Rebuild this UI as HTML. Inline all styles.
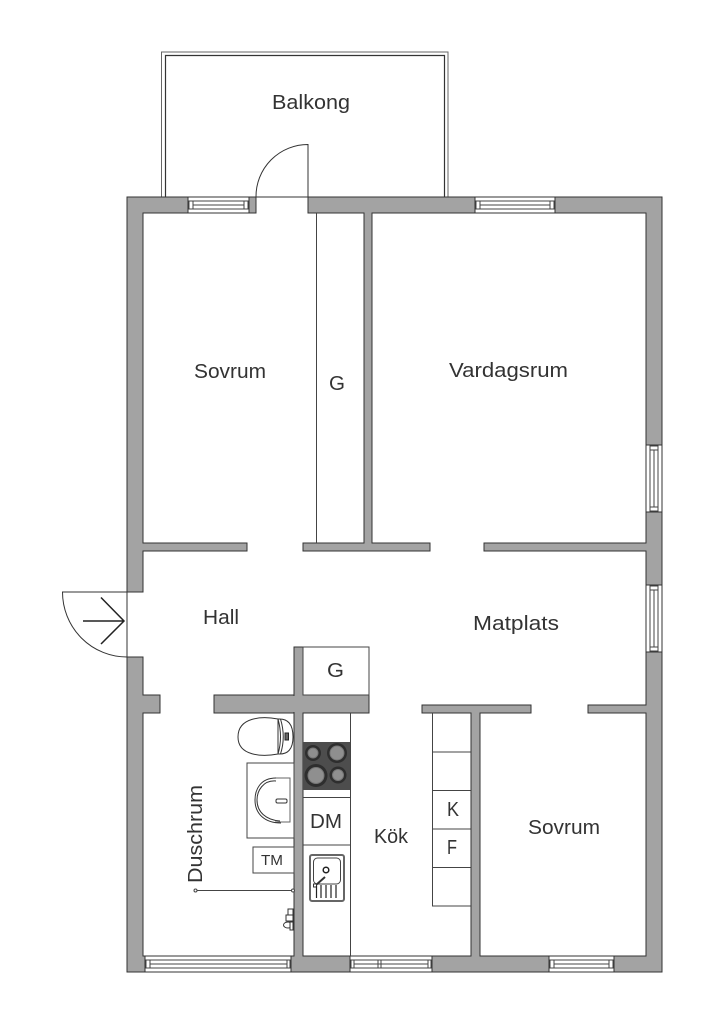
<!DOCTYPE html>
<html><head><meta charset="utf-8"><style>
html,body{margin:0;padding:0;background:#fff}
svg{display:block}
text{font-family:"Liberation Sans",sans-serif;fill:#333;font-size:20px}
</style></head><body>
<svg width="724" height="1024" viewBox="0 0 724 1024" xmlns="http://www.w3.org/2000/svg">
<rect width="724" height="1024" fill="#fff"/>
<!-- balcony -->
<path d="M161.5 197V52H448V197" fill="none" stroke="#666" stroke-width="1"/>
<path d="M165.5 197V55.5H444.5V197" fill="none" stroke="#333" stroke-width="1.2"/>
<!-- walls -->
<g fill="#a3a3a3" stroke="#333" stroke-width="1">
<path d="M127 197H188V213H143V543H247V551H143V592H127Z"/>
<rect x="249" y="197" width="7" height="16"/>
<path d="M308 197H662V972H127V657H143V695H160V713H143V956H294V647H303V695H369V713H303V956H471V713H422V705H531V713H480V956H646V713H588V705H646V551H484V543H646V213H372V543H430V551H303V543H364V213H308Z"/>
<rect x="214" y="695" width="80" height="18"/>
</g>
<!-- clean joins -->
<g fill="#a3a3a3">
<rect x="293" y="696" width="11" height="16"/>
<rect x="128" y="198" width="14" height="14"/>
</g>
<!-- windows -->
<g fill="#fff" stroke="#333" stroke-width="1">
<rect x="188" y="197" width="61" height="16"/>
<rect x="475" y="197" width="80" height="16"/>
<rect x="646" y="445" width="16" height="67"/>
<rect x="646" y="585" width="16" height="67"/>
<rect x="145" y="956" width="146" height="16"/>
<rect x="350" y="956" width="82" height="16"/>
<rect x="549" y="956" width="65" height="16"/>
</g>
<g fill="none" stroke="#444" stroke-width="1">
<rect x="189" y="201" width="59" height="8"/><path d="M193 201V209M244 201V209M193 205H244"/>
<rect x="476" y="201" width="78" height="8"/><path d="M480 201V209M550 201V209M480 205H550"/>
<rect x="650" y="446" width="8" height="65"/><path d="M650 450H658M650 507H658M654 450V507"/>
<rect x="650" y="586" width="8" height="65"/><path d="M650 590H658M650 647H658M654 590V647"/>
<rect x="146" y="960" width="144" height="8"/><path d="M150 960V968M287 960V968M150 964H287"/>
<rect x="351" y="960" width="80" height="8"/><path d="M354 960V968M378 960V968M381 960V968M428 960V968M354 964H428"/>
<rect x="550" y="960" width="63" height="8"/><path d="M554 960V968M609 960V968M554 964H609"/>
</g>
<!-- doors -->
<g fill="none" stroke="#333" stroke-width="1">
<path d="M256 197H308V144.5A52 52 0 0 0 256 197"/>
<path d="M127 592V657M127 592H62.5A64.5 65 0 0 0 127 657"/>
</g>
<path d="M83 621H124M101 597.5L124 621L101 644" fill="none" stroke="#222" stroke-width="1.5"/>
<!-- G closets -->
<g fill="none" stroke="#444" stroke-width="1">
<path d="M316.5 213V543"/>
<rect x="303" y="647" width="66" height="48"/>
<!-- counter -->
<path d="M350.5 713V956M303 797.5H350M303 845H350"/>
<!-- wardrobe -->
<path d="M432.5 713V906H471M432 752H471M432 790.5H471M432 829H471M432 867.5H471"/>
<!-- bathroom -->
<rect x="247" y="763" width="47" height="75"/>
<rect x="253" y="847" width="41" height="26"/>
</g>
<!-- stove -->
<rect x="303" y="742" width="47" height="48" fill="#4d4d4d"/>
<g fill="#2e2e2e">
<circle cx="313" cy="753" r="8"/><circle cx="337" cy="753" r="10"/>
<circle cx="316" cy="775.5" r="11.5"/><circle cx="338" cy="775" r="8.5"/>
</g>
<g fill="#8f8f8f" stroke="#777" stroke-width="1">
<circle cx="313" cy="753" r="5"/><circle cx="337" cy="753" r="7"/>
<circle cx="316" cy="775.5" r="8"/><circle cx="338" cy="775" r="5.5"/>
</g>
<!-- toilet -->
<g fill="#fff" stroke="#333" stroke-width="1">
<path d="M278 719C262 716 238 717 238 737C238 756 262 757 278 754Z"/>
<path d="M278 719Q293 718 293 737Q293 755 278 754Q283 737 278 719Z"/>
<path d="M280.5 719Q286 737 280.5 754" fill="none"/>
<rect x="285" y="733" width="3.5" height="7" stroke="#222" fill="#666"/>
<!-- basin -->
<path d="M275 778H290V822H275" fill="none" stroke="#666"/>
<path d="M276 781C263 780 257 791 257 800C257 812 266 820 280 821" fill="none" stroke="#333"/>
<path d="M276 778C260 778 255 790 255 800C255 814 265 823 281 823" fill="none" stroke="#333"/>
<rect x="276" y="799" width="11" height="4" fill="#fff" rx="1.5"/>
</g>
<!-- sink -->
<g fill="none">
<rect x="310" y="855" width="34" height="46" rx="2" fill="#fff" stroke="#666" stroke-width="2"/>
<rect x="313.5" y="858" width="27" height="26" rx="4" stroke="#444"/>
<circle cx="326" cy="870" r="2.8" stroke="#222" stroke-width="1.5"/>
<path d="M316 885L325 877" stroke="#333" stroke-width="2"/>
<rect x="313.5" y="884" width="3" height="3" stroke="#333" fill="#fff"/>
<path d="M316.5 886V898M321 885V898M326 885V898M331 885V898M336 885V898" stroke="#222" stroke-width="1.2"/>
</g>
<!-- shower -->
<path d="M195 890.5H293" stroke="#444" stroke-width="1"/>
<circle cx="195.5" cy="890.5" r="1.5" fill="#fff" stroke="#444"/>
<circle cx="293" cy="890.5" r="1.5" fill="#fff" stroke="#444"/>
<g fill="#fff" stroke="#333" stroke-width="1">
<rect x="288" y="909" width="5" height="7"/>
<rect x="286" y="915" width="7" height="6"/>
<ellipse cx="288" cy="925" rx="4.5" ry="3"/>
<rect x="290" y="922" width="3" height="8"/>
</g>
<!-- labels -->
<text x="272" y="109" textLength="78" lengthAdjust="spacingAndGlyphs">Balkong</text>
<text x="194" y="378" textLength="72" lengthAdjust="spacingAndGlyphs">Sovrum</text>
<text x="329" y="390" textLength="16" lengthAdjust="spacingAndGlyphs">G</text>
<text x="449" y="377" textLength="119" lengthAdjust="spacingAndGlyphs">Vardagsrum</text>
<text x="203" y="624" textLength="36" lengthAdjust="spacingAndGlyphs">Hall</text>
<text x="473" y="630" textLength="86" lengthAdjust="spacingAndGlyphs">Matplats</text>
<text x="327" y="677" textLength="17" lengthAdjust="spacingAndGlyphs">G</text>
<text x="310" y="828" textLength="32" lengthAdjust="spacingAndGlyphs">DM</text>
<text x="374" y="843" textLength="34" lengthAdjust="spacingAndGlyphs">Kök</text>
<text x="528" y="834" textLength="72" lengthAdjust="spacingAndGlyphs">Sovrum</text>
<text x="447" y="816" textLength="12" lengthAdjust="spacingAndGlyphs">K</text>
<text x="447" y="854" textLength="10" lengthAdjust="spacingAndGlyphs">F</text>
<text x="261" y="865" style="font-size:15px" textLength="22" lengthAdjust="spacingAndGlyphs">TM</text>
<text transform="translate(202 883) rotate(-90)" textLength="98" lengthAdjust="spacingAndGlyphs">Duschrum</text>
</svg>
</body></html>
